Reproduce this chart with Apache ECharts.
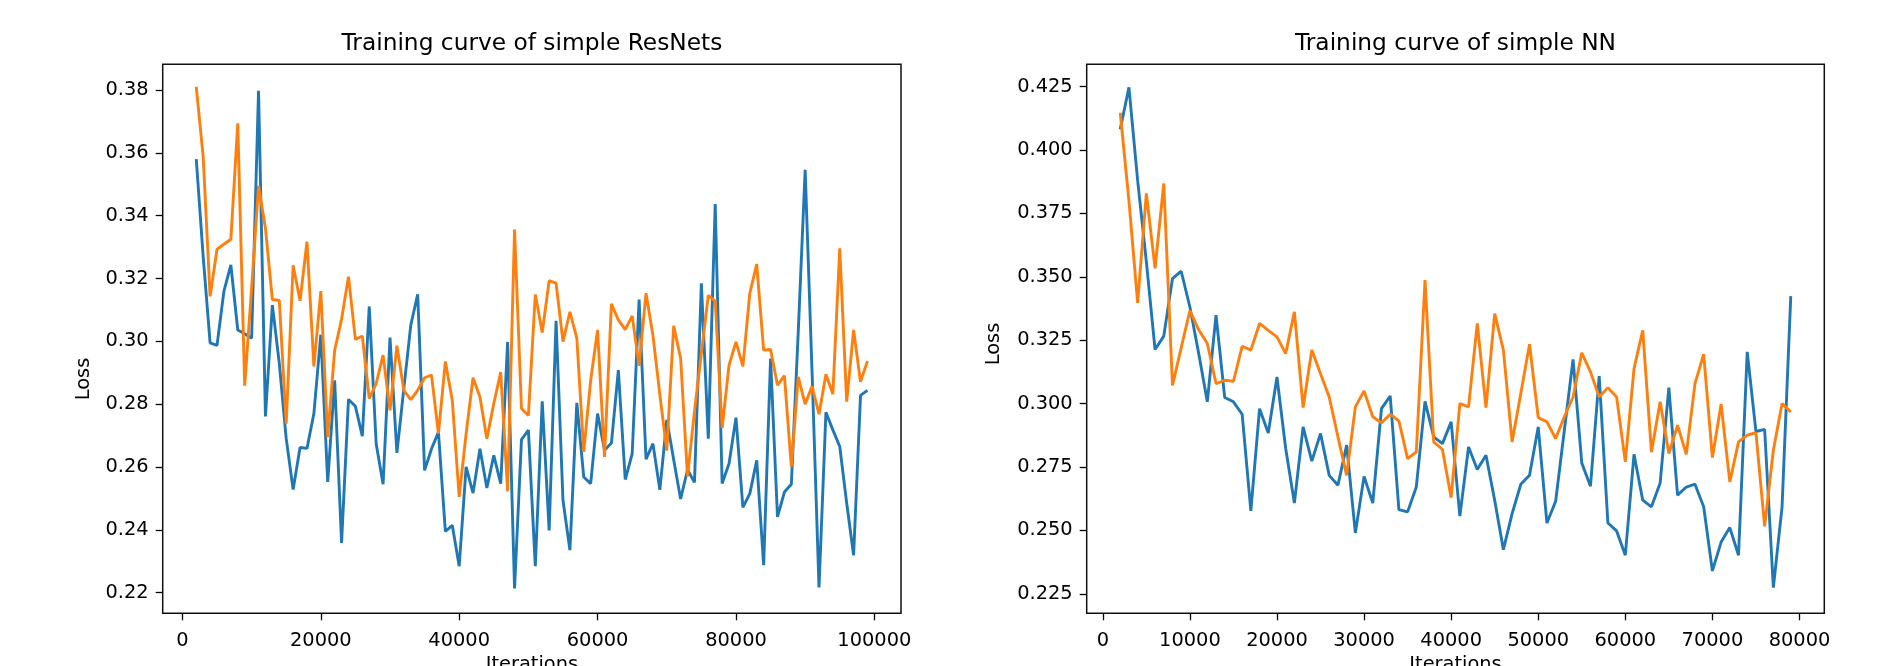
<!DOCTYPE html>
<html>
<head>
<meta charset="utf-8">
<script src="https://cdn.jsdelivr.net/npm/echarts@6/dist/echarts.min.js"></script>
<style>
  html, body { margin: 0; padding: 0; background: #fff; }
  #chart { width: 1888px; height: 666px; }
</style>
</head>
<body>
<div id="chart"></div>
<script>
// iterations for the ResNet run (2000 .. 99000)
var resnetIters = [
  2000, 3000, 4000, 5000, 6000, 7000, 8000, 9000, 10000, 11000,
  12000, 13000, 14000, 15000, 16000, 17000, 18000, 19000, 20000, 21000,
  22000, 23000, 24000, 25000, 26000, 27000, 28000, 29000, 30000, 31000,
  32000, 33000, 34000, 35000, 36000, 37000, 38000, 39000, 40000, 41000,
  42000, 43000, 44000, 45000, 46000, 47000, 48000, 49000, 50000, 51000,
  52000, 53000, 54000, 55000, 56000, 57000, 58000, 59000, 60000, 61000,
  62000, 63000, 64000, 65000, 66000, 67000, 68000, 69000, 70000, 71000,
  72000, 73000, 74000, 75000, 76000, 77000, 78000, 79000, 80000, 81000,
  82000, 83000, 84000, 85000, 86000, 87000, 88000, 89000, 90000, 91000,
  92000, 93000, 94000, 95000, 96000, 97000, 98000, 99000
];
var resnetBlue = [
  0.358, 0.327, 0.2995, 0.2987, 0.316, 0.3243, 0.3036, 0.3024, 0.301, 0.3798,
  0.2761, 0.3115, 0.293, 0.269, 0.2528, 0.2662, 0.2659, 0.277, 0.3021, 0.2552,
  0.2876, 0.2358, 0.2815, 0.2793, 0.2698, 0.3111, 0.2674, 0.2545, 0.3012, 0.2645,
  0.285, 0.3051, 0.315, 0.2589, 0.2658, 0.2711, 0.2395, 0.2414, 0.2284, 0.26,
  0.2517, 0.2658, 0.2533, 0.2637, 0.2547, 0.2998, 0.2213, 0.2687, 0.2717, 0.2284,
  0.2809, 0.2398, 0.3065, 0.2494, 0.2335, 0.2804, 0.2568, 0.2547, 0.277, 0.2653,
  0.2676, 0.2908, 0.256, 0.2642, 0.3133, 0.2625, 0.2674, 0.2527, 0.275, 0.2623,
  0.2498, 0.2591, 0.2551, 0.3185, 0.269, 0.3437, 0.2547, 0.2611, 0.2757, 0.2471,
  0.2515, 0.2621, 0.2287, 0.2945, 0.2441, 0.252, 0.2545, 0.303, 0.3546, 0.29,
  0.2216, 0.2774, 0.2718, 0.2665, 0.2485, 0.2319, 0.2828, 0.2844
];
var resnetOrange = [
  0.381, 0.3588, 0.3143, 0.3293, 0.3309, 0.3325, 0.3694, 0.2859, 0.317, 0.3495,
  0.336, 0.3133, 0.313, 0.2738, 0.3242, 0.3129, 0.3317, 0.292, 0.316, 0.2695,
  0.2971, 0.307, 0.3206, 0.3006, 0.3017, 0.2818, 0.2865, 0.2956, 0.278, 0.2986,
  0.2844, 0.2814, 0.2844, 0.2884, 0.2892, 0.2706, 0.2936, 0.2812, 0.2505, 0.2706,
  0.2884, 0.2823, 0.269, 0.2802, 0.2902, 0.2523, 0.3356, 0.2786, 0.2764, 0.3149,
  0.3028, 0.3193, 0.3185, 0.2999, 0.3094, 0.301, 0.2648, 0.2876, 0.3036, 0.2632,
  0.3119, 0.3068, 0.3037, 0.3081, 0.2922, 0.3153, 0.3019, 0.283, 0.2652, 0.3049,
  0.2946, 0.257, 0.2776, 0.2962, 0.3146, 0.3127, 0.2724, 0.2924, 0.2998, 0.292,
  0.3153, 0.3246, 0.2972, 0.2974, 0.286, 0.2891, 0.2601, 0.2887, 0.28, 0.2857,
  0.2768, 0.2895, 0.2832, 0.3296, 0.2808, 0.3036, 0.2871, 0.2937
];

// iterations for the plain NN run (2000 .. 79000)
var nnIters = [
  2000, 3000, 4000, 5000, 6000, 7000, 8000, 9000, 10000, 11000,
  12000, 13000, 14000, 15000, 16000, 17000, 18000, 19000, 20000, 21000,
  22000, 23000, 24000, 25000, 26000, 27000, 28000, 29000, 30000, 31000,
  32000, 33000, 34000, 35000, 36000, 37000, 38000, 39000, 40000, 41000,
  42000, 43000, 44000, 45000, 46000, 47000, 48000, 49000, 50000, 51000,
  52000, 53000, 54000, 55000, 56000, 57000, 58000, 59000, 60000, 61000,
  62000, 63000, 64000, 65000, 66000, 67000, 68000, 69000, 70000, 71000,
  72000, 73000, 74000, 75000, 76000, 77000, 78000, 79000
];
var nnBlue = [
  0.4082, 0.4247, 0.388, 0.356, 0.3213, 0.3266, 0.3493, 0.3522, 0.3381, 0.32,
  0.3007, 0.3349, 0.3024, 0.3007, 0.2958, 0.2577, 0.298, 0.2884, 0.3105, 0.2823,
  0.2608, 0.2908, 0.2773, 0.2882, 0.2717, 0.2678, 0.2836, 0.249, 0.2713, 0.2608,
  0.298, 0.303, 0.2582, 0.2573, 0.2671, 0.3009, 0.2869, 0.2842, 0.2928, 0.2556,
  0.2829, 0.274, 0.2796, 0.2619, 0.2424, 0.2566, 0.2682, 0.2717, 0.2908, 0.2529,
  0.2615, 0.2895, 0.3174, 0.2766, 0.2674, 0.3108, 0.2529, 0.2498, 0.2402, 0.28,
  0.2619, 0.2593, 0.2687, 0.3063, 0.2639, 0.2671, 0.2682, 0.2593, 0.234, 0.2454,
  0.2511, 0.2402, 0.3204, 0.289, 0.2898, 0.2274, 0.2593, 0.3424
];
var nnOrange = [
  0.4147, 0.38, 0.3397, 0.3829, 0.3533, 0.3868, 0.3072, 0.322, 0.3367, 0.3292,
  0.3237, 0.3079, 0.3092, 0.3088, 0.3226, 0.3211, 0.3316, 0.3289, 0.3263, 0.3197,
  0.3362, 0.2984, 0.3211, 0.3118, 0.3026, 0.2869, 0.2717, 0.2987, 0.305, 0.2948,
  0.2924, 0.2958, 0.2932, 0.2783, 0.2809, 0.3487, 0.2849, 0.2819, 0.2629, 0.3,
  0.2987, 0.3316, 0.2984, 0.3355, 0.3211, 0.2849, 0.304, 0.3234, 0.2945, 0.2928,
  0.2862, 0.2948, 0.3026, 0.32, 0.3125, 0.3026, 0.3063, 0.3026, 0.277, 0.3138,
  0.3289, 0.2809, 0.3007, 0.2803, 0.2915, 0.28, 0.3079, 0.3195, 0.2787, 0.2998,
  0.2691, 0.2849, 0.2876, 0.2885, 0.2516, 0.2816, 0.3, 0.2967
];

// tick labels
var resnetXTicks = [0, 20000, 40000, 60000, 80000, 100000];
var resnetYTicks = [0.22, 0.24, 0.26, 0.28, 0.30, 0.32, 0.34, 0.36, 0.38];
var nnXTicks = [0, 10000, 20000, 30000, 40000, 50000, 60000, 70000, 80000];
var nnYTicks = [0.225, 0.25, 0.275, 0.3, 0.325, 0.35, 0.375, 0.4, 0.425];

var titles = ['Training curve of simple ResNets', 'Training curve of simple NN'];

function pairs(xs, ys) {
  return xs.map(function (x, i) { return [x, ys[i]]; });
}

var FONT = 'DejaVu Sans';
var FS = 19.4;

function xAxisOf(gi, min, max, ticks) {
  return {
    type: 'value', gridIndex: gi, min: min, max: max,
    axisLine: { show: false, onZero: false },
    splitLine: { show: false },
    axisTick: { customValues: ticks, length: 7, lineStyle: { color: '#000', width: 1.3 } },
    axisLabel: { customValues: ticks, color: '#000', fontFamily: FONT, fontSize: FS, margin: 18,
      formatter: function (v) { return String(v); } }
  };
}
function yAxisOf(gi, min, max, ticks, dec) {
  return {
    type: 'value', gridIndex: gi, min: min, max: max,
    axisLine: { show: false, onZero: false },
    splitLine: { show: false },
    axisTick: { customValues: ticks, length: 7, lineStyle: { color: '#000', width: 1.3 } },
    axisLabel: { customValues: ticks, color: '#000', fontFamily: FONT, fontSize: FS, margin: 14,
      formatter: function (v) { return v.toFixed(dec); } }
  };
}
function lineOf(xi, data, color) {
  return {
    type: 'line', xAxisIndex: xi, yAxisIndex: xi, data: data,
    showSymbol: false, animation: false,
    lineStyle: { color: color, width: 2.9 }, itemStyle: { color: color }
  };
}
function label(text, x, y, size, rot) {
  return {
    type: 'text', x: x, y: y, rotation: rot || 0,
    style: { text: text, font: size + 'px "DejaVu Sans"', fill: '#000', textAlign: 'center', textVerticalAlign: 'middle' }
  };
}

var myChart = echarts.init(document.getElementById('chart'));
var option = {
  backgroundColor: '#fff',
  animation: false,
  grid: [
    { left: 162.7, right: 987, top: 64.3, bottom: 52.7, show: true, borderColor: '#111', borderWidth: 1.5, backgroundColor: 'transparent' },
    { left: 1086.7, right: 63.7, top: 64.3, bottom: 52.7, show: true, borderColor: '#111', borderWidth: 1.5, backgroundColor: 'transparent' }
  ],
  xAxis: [
    xAxisOf(0, -2850, 103850, resnetXTicks),
    xAxisOf(1, -1850, 82850, nnXTicks)
  ],
  yAxis: [
    yAxisOf(0, 0.2134, 0.3882, resnetYTicks, 2),
    yAxisOf(1, 0.2173, 0.4338, nnYTicks, 3)
  ],
  graphic: [
    label(titles[0], 531.9, 44, 23.3),
    label(titles[1], 1455.5, 44, 23.3),
    label('Loss', 84, 379, FS, Math.PI / 2),
    label('Loss', 994, 344, FS, Math.PI / 2),
    label('Iterations', 531.9, 665, FS),
    label('Iterations', 1455.5, 665, FS)
  ],
  series: [
    lineOf(0, pairs(resnetIters, resnetBlue), '#1f77b4'),
    lineOf(0, pairs(resnetIters, resnetOrange), '#ff7f0e'),
    lineOf(1, pairs(nnIters, nnBlue), '#1f77b4'),
    lineOf(1, pairs(nnIters, nnOrange), '#ff7f0e')
  ]
};
myChart.setOption(option);
</script>
</body>
</html>
